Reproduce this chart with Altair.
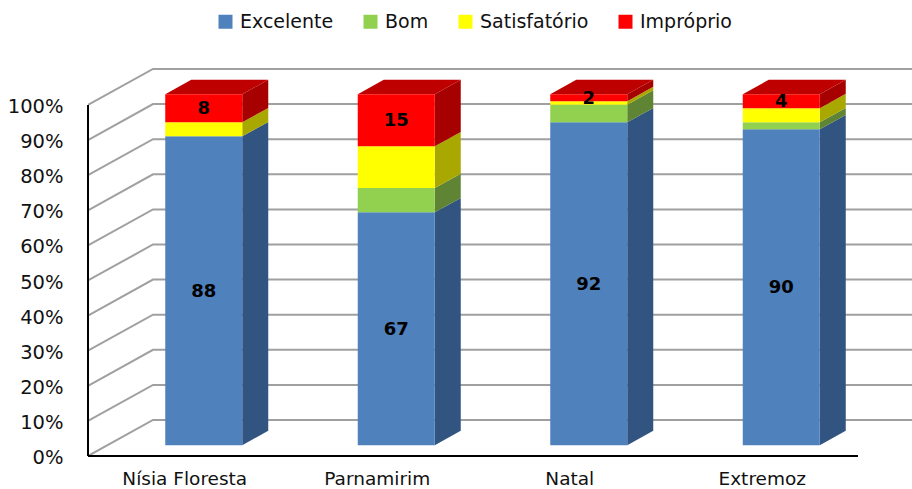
import altair as alt
import pandas as pd

# Share of samples per bathing-quality class, by municipality
cities = ["Nísia Floresta", "Parnamirim", "Natal", "Extremoz"]
classes = ["Excelente", "Bom", "Satisfatório", "Impróprio"]
excelente = [88, 67, 92, 90]
bom = [0, 7, 5, 2]
satisfatorio = [4, 12, 1, 4]
improprio = [8, 15, 2, 4]
y_ticks = [0, 10, 20, 30, 40, 50, 60, 70, 80, 90, 100]

front_colors = ["#4F81BD", "#92D050", "#FFFF00", "#FF0000"]
side_colors = ["#325480", "#5F8434", "#A8A800", "#A60000"]
top_color = "#BF0000"
grid_color = "#A0A0A0"
font = "DejaVu Sans"

# Oblique projection of the box: how far the back wall sits from the front plane,
# in axis units, and where a bar sits inside that depth.
PX_PER_CITY = 192.5
PX_PER_PCT = 3.51
WALL_DX = 65 / PX_PER_CITY
WALL_DY = 36 / PX_PER_PCT
BAR_START = 0.3
BAR_DEPTH = 0.4
BAR_WIDTH = 0.4
X_MAX = 824 / PX_PER_CITY
Y_MAX = 388 / PX_PER_PCT

series = [excelente, bom, satisfatorio, improprio]
front_rows, side_rows, top_rows, label_rows = [], [], [], []
for i, city in enumerate(cities):
    total = sum(s[i] for s in series)
    x0 = i + 0.5 + BAR_START * WALL_DX - BAR_WIDTH / 2
    x1 = x0 + BAR_WIDTH
    lift = BAR_START * WALL_DY
    dx = BAR_DEPTH * WALL_DX
    dy = BAR_DEPTH * WALL_DY
    running = 0
    for name, s, side in zip(classes, series, side_colors):
        low = running / total * 100 + lift
        running += s[i]
        high = running / total * 100 + lift
        front_rows.append({"x": x0, "x2": x1, "y": low, "y2": high, "classe": name})
        group = f"{city}-{name}"
        side_rows.append({"x": x1, "y": low, "y2": high, "fill": side, "group": group})
        side_rows.append({"x": x1 + dx, "y": low + dy, "y2": high + dy, "fill": side, "group": group})
        if name in ("Excelente", "Impróprio"):
            label_rows.append({"x": (x0 + x1) / 2, "y": (low + high) / 2, "text": str(s[i])})
    top = 100 + lift
    for px, a, b in [(x0, top, top), (x0 + dx, top, top + dy), (x1, top, top + dy), (x1 + dx, top + dy, top + dy)]:
        top_rows.append({"x": px, "y": a, "y2": b, "group": city})

grid_rows = []
for v in y_ticks:
    grid_rows.append({"x": 0, "y": v, "line": v})
    grid_rows.append({"x": WALL_DX, "y": v + WALL_DY, "line": v})
    grid_rows.append({"x": X_MAX, "y": v + WALL_DY, "line": v})

axis_rows = [
    {"x": 0, "y": 100, "line": "v"}, {"x": 0, "y": 0, "line": "v"},
    {"x": 0, "y": 0, "line": "h"}, {"x": len(cities), "y": 0, "line": "h"},
]

x_scale = alt.Scale(domain=[0, X_MAX], nice=False, zero=False)
y_scale = alt.Scale(domain=[0, Y_MAX], nice=False, zero=False)
names_js = "[" + ",".join(f"'{c}'" for c in cities) + "]"

# Every layer shares the same axis definitions so they merge into a single pair.
x_enc = alt.X(
    "x:Q", scale=x_scale, title=None,
    axis=alt.Axis(
        values=[i + 0.5 for i in range(len(cities))],
        labelExpr=f"{names_js}[floor(datum.value)]",
        domain=False, ticks=False, grid=False, labelPadding=13,
        labelFont=font, labelFontSize=18.5, labelColor="#111111", labelAngle=0,
    ),
)
y_enc = alt.Y(
    "y:Q", scale=y_scale, title=None,
    axis=alt.Axis(
        values=y_ticks, labelExpr="datum.value + '%'",
        domain=False, ticks=False, grid=False, labelPadding=25, labelOffset=1.5,
        labelFont=font, labelFontSize=19.5, labelColor="#111111",
    ),
)

grid = alt.Chart(pd.DataFrame(grid_rows)).mark_line(
    color=grid_color, strokeWidth=2, clip=True
).encode(x=x_enc, y=y_enc, detail="line:N")

axes = alt.Chart(pd.DataFrame(axis_rows)).mark_line(
    color="#000000", strokeWidth=2
).encode(x=x_enc, y=y_enc, detail="line:N")

sides = alt.Chart(pd.DataFrame(side_rows)).mark_area(interpolate="linear").encode(
    x=x_enc, y=y_enc, y2="y2:Q",
    fill=alt.Fill("fill:N", scale=None), detail="group:N",
)

tops = alt.Chart(pd.DataFrame(top_rows)).mark_area(interpolate="linear", color=top_color).encode(
    x=x_enc, y=y_enc, y2="y2:Q", detail="group:N",
)

fronts = alt.Chart(pd.DataFrame(front_rows)).mark_rect().encode(
    x=x_enc, x2="x2:Q", y=y_enc, y2="y2:Q",
    color=alt.Color(
        "classe:N",
        scale=alt.Scale(domain=classes, range=front_colors),
        sort=classes,
        legend=alt.Legend(
            orient="none", legendX=128, legendY=-56, direction="horizontal",
            title=None, symbolType="square", symbolSize=196, symbolStrokeWidth=0,
            labelFont=font, labelFontSize=19, labelColor="#111111",
            columns=4, columnPadding=27, labelOffset=5,
        ),
    ),
)

labels = alt.Chart(pd.DataFrame(label_rows)).mark_text(
    font=font, fontSize=18, fontWeight="bold", color="#000000", dy=1
).encode(x=x_enc, y=y_enc, text="text:N")

chart = alt.layer(grid, axes, sides, tops, fronts, labels).properties(
    width=824,
    height=388,
    padding={"left": 88, "top": 68, "right": 0, "bottom": 33},
    autosize=alt.AutoSizeParams(type="none"),
    background="#FFFFFF",
).configure_view(stroke=None)

chart.save("out.html", embed_options={"renderer": "svg", "actions": False})
